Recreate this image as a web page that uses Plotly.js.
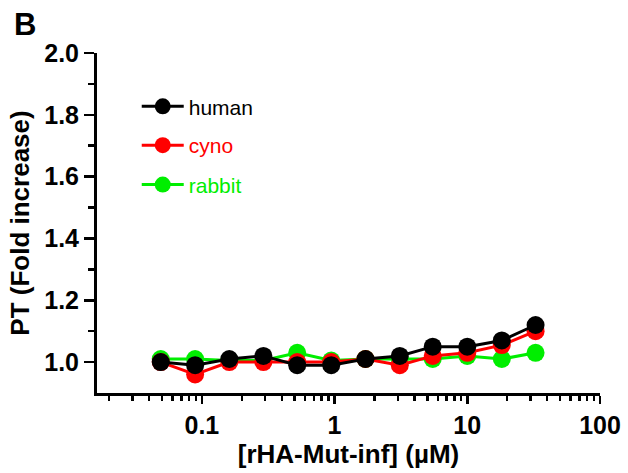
<!DOCTYPE html>
<html>
<head>
<meta charset="utf-8">
<script src="https://cdn.plot.ly/plotly-3.0.1.min.js"></script>
<style>html,body{margin:0;padding:0;background:#fff;}#chart{width:628px;height:473px;}</style>
</head>
<body>
<div id="chart"></div>
<script>
// Concentrations (µM)
const conc = [0.049, 0.089, 0.161, 0.291, 0.523, 0.944, 1.71, 3.1, 5.49, 10.0, 18.2, 32.7];
const human  = [1.00, 0.99, 1.01, 1.02, 0.99, 0.99, 1.01, 1.02, 1.05, 1.05, 1.07, 1.12];
const cyno   = [1.00, 0.96, 1.00, 1.00, 1.00, 1.00, 1.01, 0.99, 1.02, 1.03, 1.055, 1.10];
const rabbit = [1.01, 1.01, 1.005, 1.005, 1.03, 1.005, 1.01, 1.01, 1.01, 1.02, 1.01, 1.03];
const seriesNames = ["human", "cyno", "rabbit"];
const xTickVals = [0.1, 1, 10, 100];
const xTickText = ["0.1", "1", "10", "100"];
const yTickVals = [1.0, 1.2, 1.4, 1.6, 1.8, 2.0];
const yTickText = ["1.0", "1.2", "1.4", "1.6", "1.8", "2.0"];

const FONT = "Arial, 'Liberation Sans', Helvetica, sans-serif";
const xMinor = [];
for (let d = -2; d < 2; d++) for (let k = 2; k <= 9; k++) xMinor.push(k * Math.pow(10, d));

function tr(name, y, color, legendId) {
  return {
    x: conc, y: y, name: name, type: "scatter", mode: "lines+markers",
    line: {color: color, width: 3},
    marker: {color: color, size: 18, line: {width: 0}},
    legend: legendId, cliponaxis: false
  };
}
const data = [
  tr(seriesNames[2], rabbit, "#00ee00", "legend3"),
  tr(seriesNames[1], cyno, "#ff0000", "legend2"),
  tr(seriesNames[0], human, "#000000", "legend")
];
function leg(y, color) {
  return {x: 0.079, xanchor: "left", y: y, yanchor: "middle", xref: "paper", yref: "paper",
    bgcolor: "rgba(0,0,0,0)", font: {family: FONT, size: 21, color: color}, itemsizing: "trace", itemwidth: 42};
}
const layout = {
  width: 628, height: 473,
  margin: {l: 97, r: 28, t: 53, b: 80},
  paper_bgcolor: "#fff", plot_bgcolor: "#fff",
  showlegend: true,
  legend: leg(0.842, "#000"),
  legend2: leg(0.728, "#ff0000"),
  legend3: leg(0.612, "#00ee00"),
  xaxis: {
    type: "log", range: [-1.79, 2], showgrid: false, zeroline: false,
    showline: true, linecolor: "#000", linewidth: 3,
    ticks: "outside", ticklen: 8, tickwidth: 2.5, tickcolor: "#000",
    tickmode: "array", tickvals: xTickVals, ticktext: xTickText,
    tickfont: {family: FONT, size: 25, color: "#000", weight: "bold"},
    minor: {tickmode: "array", tickvals: xMinor, ticks: "outside", ticklen: 5, tickwidth: 2.5, tickcolor: "#000", showgrid: false},
    title: {text: "<b>[rHA-Mut-inf] (µM)</b>", font: {family: FONT, size: 26, color: "#000"}, standoff: 6}
  },
  yaxis: {
    range: [0.9, 2.0], showgrid: false, zeroline: false,
    showline: true, linecolor: "#000", linewidth: 3,
    ticks: "outside", ticklen: 10, tickwidth: 2.5, tickcolor: "#000",
    tickmode: "array", tickvals: yTickVals, ticktext: yTickText,
    tickfont: {family: FONT, size: 25, color: "#000", weight: "bold"},
    minor: {tickmode: "array", tickvals: [1.1, 1.3, 1.5, 1.7, 1.9], ticks: "outside", ticklen: 6, tickwidth: 2.5, tickcolor: "#000", showgrid: false},
    title: {text: "<b>PT (Fold increase)</b>", font: {family: FONT, size: 26, color: "#000"}, standoff: 8}
  },
  annotations: [{
    text: "<b>B</b>", xref: "paper", yref: "paper", x: -0.168, y: 1.085, xanchor: "left", yanchor: "middle",
    showarrow: false, font: {family: FONT, size: 31, color: "#000"}
  }]
};
Plotly.newPlot("chart", data, layout, {displayModeBar: false, staticPlot: true});
</script>
</body>
</html>
